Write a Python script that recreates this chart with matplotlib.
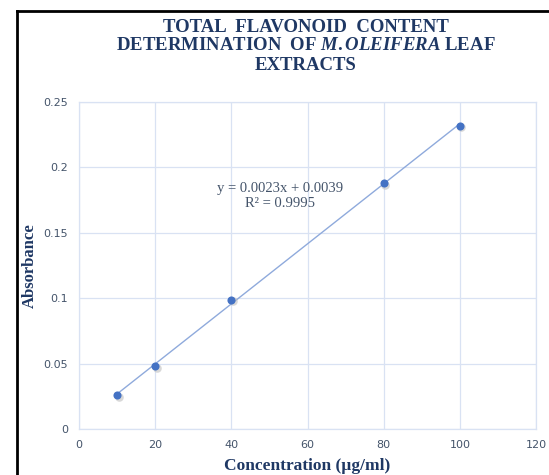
import matplotlib.pyplot as plt
from matplotlib.lines import Line2D
import numpy as np

plt.rcParams['mathtext.fontset'] = 'custom'
plt.rcParams['mathtext.it'] = 'Liberation Serif:italic:bold'
plt.rcParams['mathtext.rm'] = 'Liberation Serif:bold'

# concentration (ug/ml) and absorbance
conc = [10, 20, 40, 80, 100]
absorb = [0.026, 0.048, 0.099, 0.188, 0.232]

xticks = [0, 20, 40, 60, 80, 100, 120]
yticks = [0, 0.05, 0.1, 0.15, 0.2, 0.25]
ytick_labels = ['0', '0.05', '0.1', '0.15', '0.2', '0.25']

navy = '#1F3864'
tick_col = '#44546A'
grid_col = '#D9E2F3'

fig = plt.figure(figsize=(5.49, 4.75), dpi=100)
ax = fig.add_axes([79 / 549, 1 - 429 / 475, (536 - 79) / 549, (429 - 102) / 475])

# trendline
k, b = np.polyfit(conc, absorb, 1)
xs = np.array([conc[0], conc[-1]])
ax.plot(xs, k * xs + b, color='#8FAADC', lw=1, zorder=2)

# shadow + points
ax.scatter(np.array(conc) + 0.4, np.array(absorb) - 0.0012, s=38, color='#BFBFBF', alpha=0.6, zorder=3, lw=0)
ax.scatter(conc, absorb, s=34, color='#4472C4', zorder=4, lw=0)

ax.set_xlim(0, 120)
ax.set_ylim(0, 0.25)
ax.set_xticks(xticks)
ax.set_yticks(yticks)
ax.set_yticklabels(ytick_labels)
ax.grid(True, color=grid_col, lw=0.9)
ax.set_axisbelow(True)
for s in ax.spines.values():
    s.set_color(grid_col)
    s.set_linewidth(0.9)
ax.tick_params(length=0, labelsize=8, labelcolor=tick_col, pad=8)

ax.text(52.8, 0.1835, 'y = 0.0023x + 0.0039', ha='center', va='center',
        fontsize=10.5, family='Liberation Serif', color='#44546A')
ax.text(52.8, 0.1725, 'R² = 0.9995', ha='center', va='center',
        fontsize=10.5, family='Liberation Serif', color='#44546A')

ax.set_xlabel('Concentration (µg/ml)', fontsize=12.5, family='Liberation Serif',
              fontweight='bold', color=navy, labelpad=6)
ax.set_ylabel('Absorbance', fontsize=12, family='Liberation Serif',
              fontweight='bold', color=navy)
ax.yaxis.set_label_coords(-41 / 457, 0.50)

tkw = dict(ha='center', va='center', fontsize=13.5, family='Liberation Serif',
           fontweight='bold', color=navy)
fig.text(306 / 549, 1 - 27 / 475, 'TOTAL  FLAVONOID  CONTENT', **tkw)
fig.text(306 / 549, 1 - 46 / 475, 'DETERMINATION  OF $\\it{M.OLEIFERA}$ LEAF', **tkw)
fig.text(306 / 549, 1 - 66 / 475, 'EXTRACTS', **tkw)

# black border lines at top and left
fig.add_artist(Line2D([17 / 549, 1], [1 - 11 / 475, 1 - 11 / 475], color='black', lw=2))
fig.add_artist(Line2D([17 / 549, 17 / 549], [0, 1 - 11 / 475], color='black', lw=2))

fig.savefig('out.png', dpi=100)
